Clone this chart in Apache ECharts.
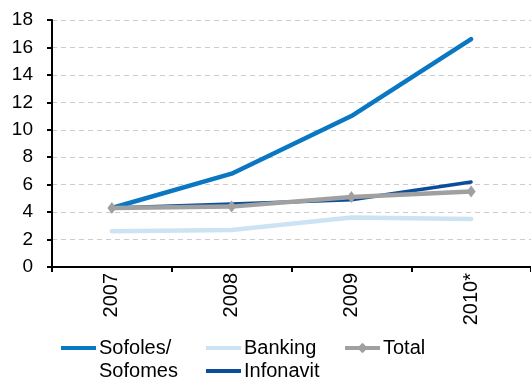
<!DOCTYPE html>
<html>
<head>
<meta charset="utf-8">
<script src="https://cdn.jsdelivr.net/npm/echarts@6/dist/echarts.min.js"></script>
<style>
  html, body { margin: 0; padding: 0; background: #fff; overflow: hidden; }
  #chart { width: 531px; height: 383px; }
</style>
</head>
<body>
<div id="chart"></div>
<script>
// Mortgage lending by originator type
var categories = ['2007', '2008', '2009', '2010*'];
var yTicks = [0, 2, 4, 6, 8, 10, 12, 14, 16, 18];
var sofoles = [4.3, 6.8, 11.0, 16.6];
var banking = [2.6, 2.7, 3.6, 3.5];
var infonavit = [4.3, 4.6, 4.9, 6.2];
var total = [4.3, 4.4, 5.1, 5.5];

var FONT = '"Liberation Sans", Arial, sans-serif';
var SOFOLES_NAME = 'Sofoles/ Sofomes';
var LINE_ICON = 'path://M0,0H35V4H0Z';
var LINE_H = 23;

var chart = echarts.init(document.getElementById('chart'));

// One legend block per entry so the entries can sit on a 3-column grid.
// centerY is the vertical centre of the entry's first text line.
function legendAt(name, left, centerY, opts) {
  opts = opts || {};
  var lines = opts.lines || 1;
  // a wrapped label gets one blank line on top so its first line stays beside the icon
  var boxLines = lines === 1 ? 1 : lines * 2 - 1;
  var boxH = boxLines * LINE_H;
  var cfg = {
    data: [name],
    left: left,
    top: centerY - (lines === 1 ? boxH / 2 : (lines - 1) * LINE_H + LINE_H / 2),
    orient: 'horizontal',
    icon: opts.icon === undefined ? LINE_ICON : opts.icon,
    itemWidth: 35,
    itemHeight: opts.itemHeight || 4,
    itemGap: 0,
    padding: 0,
    selectedMode: false,
    formatter: opts.formatter,
    textStyle: {
      fontFamily: FONT,
      fontSize: 20,
      lineHeight: LINE_H,
      color: '#000',
      padding: [0, 0, 0, -2]
    }
  };
  if (opts.lineStyle) cfg.lineStyle = opts.lineStyle;
  return cfg;
}

chart.setOption({
  animation: false,
  backgroundColor: '#fff',
  grid: { left: 52, right: -7, top: 20, bottom: 116, containLabel: false },
  legend: [
    legendAt(SOFOLES_NAME, 61, 348, {
      lines: 2,
      formatter: function () { return ' \nSofoles/\nSofomes'; }
    }),
    legendAt('Banking', 206, 348),
    legendAt('Total', 343, 348, { icon: null, itemHeight: 13, lineStyle: { width: 4 } }),
    legendAt('Infonavit', 206, 371)
  ],
  xAxis: {
    type: 'category',
    data: categories,
    boundaryGap: true,
    axisLine: { lineStyle: { color: '#000', width: 2 } },
    axisTick: { show: true, length: 5, lineStyle: { color: '#000', width: 2 } },
    axisLabel: {
      rotate: 90,
      margin: 6,
      fontFamily: FONT,
      fontSize: 20,
      color: '#000'
    },
    splitLine: { show: false }
  },
  yAxis: {
    type: 'value',
    min: yTicks[0],
    max: yTicks[yTicks.length - 1],
    interval: 2,
    axisLine: { show: true, lineStyle: { color: '#000', width: 2 } },
    axisTick: { show: true, length: 5, lineStyle: { color: '#000', width: 2 } },
    axisLabel: {
      margin: 19,
      fontFamily: FONT,
      fontSize: 19,
      color: '#000'
    },
    splitLine: { show: true, lineStyle: { color: '#cccccc', type: [5, 4], width: 1.2 } }
  },
  series: [
    {
      name: 'Banking', type: 'line', data: banking,
      symbol: 'none', color: '#cce3f3',
      lineStyle: { width: 4.5, color: '#cce3f3', cap: 'round', join: 'round' }, z: 2
    },
    {
      name: SOFOLES_NAME, type: 'line', data: sofoles,
      symbol: 'none', color: '#0a77c2',
      lineStyle: { width: 4.5, color: '#0a77c2', cap: 'round', join: 'round' }, z: 3
    },
    {
      name: 'Infonavit', type: 'line', data: infonavit,
      symbol: 'none', color: '#0a4e9b',
      lineStyle: { width: 3.5, color: '#0a4e9b', cap: 'round', join: 'round' }, z: 4
    },
    {
      name: 'Total', type: 'line', data: total,
      symbol: 'diamond', symbolSize: [9, 12], showSymbol: true,
      color: '#a0a0a0',
      itemStyle: { color: '#a0a0a0' },
      lineStyle: { width: 4.5, color: '#a0a0a0', join: 'round' }, z: 5
    }
  ]
});
</script>
</body>
</html>
